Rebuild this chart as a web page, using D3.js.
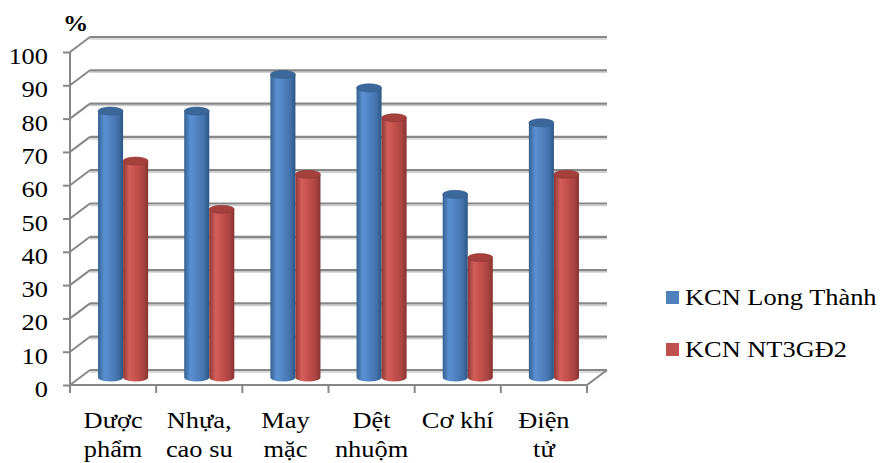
<!DOCTYPE html>
<html>
<head>
<meta charset="utf-8">
<script src="https://cdn.jsdelivr.net/npm/d3@7"></script>
</head>
<body style="margin:0;padding:0;background:#fff">
<svg id="chart" width="882" height="463" style="display:block"></svg>
<script>
// Category labels (two lines each) and the two series, in percent
const categories = [["Dược", "phẩm"], ["Nhựa,", "cao su"], ["May", "mặc"], ["Dệt", "nhuộm"], ["Cơ khí", ""], ["Điện", "tử"]];
const seriesNames = ["KCN Long Thành", "KCN NT3GĐ2"];
const longThanh = [80, 80, 91, 87, 55, 76.5];
const nt3gd2 = [65, 50.5, 61, 78, 36, 61];
const yTicks = [0, 10, 20, 30, 40, 50, 60, 70, 80, 90, 100];
const seriesColors = ["#4F81BD", "#C0504D"];

const FONT = "Liberation Serif";
const STRETCH = 1.1; // text is set slightly wide
const svg = d3.select("#chart");

// Front plane of the 3D box and the depth offset to the back wall
const front = { left: 70, right: 587, top: 52, bottom: 385 };
const depth = { dx: 20, dy: -15 };

const keys = categories.map((c, i) => i);
const x = d3.scaleBand().domain(keys).range([front.left, front.right]).paddingInner(0).paddingOuter(0);
const xInner = d3.scaleBand().domain([0, 1]).range([0, x.bandwidth()]).paddingOuter(0.72).paddingInner(0);
const y = d3.scaleLinear().domain([0, 100]).range([front.bottom, front.top]);

const gridColor = "#878787";
const shadowColor = "#cfcfcf";

// Places a text element at (px, py) with the horizontal stretch applied
function placeText(sel, px, py, size) {
  return sel.attr("x", 0).attr("y", 0)
    .attr("transform", `translate(${px},${py}) scale(${STRETCH},1)`)
    .style("font-family", FONT).style("font-size", size + "px")
    .attr("fill", "#000");
}

// Gradients for the cylinder bodies
const defs = svg.append("defs");
const gradStops = [
  [["0%", "#34628f"], ["25%", "#5a90d2"], ["45%", "#5386c6"], ["80%", "#4272ab"], ["100%", "#2c5584"]],
  [["0%", "#8f3836"], ["25%", "#d45e5a"], ["45%", "#c9534f"], ["80%", "#ab4542"], ["100%", "#873331"]]
];
gradStops.forEach((stops, i) => {
  const g = defs.append("linearGradient").attr("id", "cyl" + i).attr("x1", "0%").attr("x2", "100%");
  stops.forEach(s => g.append("stop").attr("offset", s[0]).attr("stop-color", s[1]));
});

const wall = svg.append("g");

// Back-wall gridlines with a soft shadow
yTicks.forEach(t => {
  const yy = y(t) + depth.dy;
  wall.append("line")
    .attr("x1", front.left + depth.dx).attr("x2", front.right + depth.dx)
    .attr("y1", yy + 2).attr("y2", yy + 2)
    .attr("stroke", shadowColor).attr("stroke-width", 1.5);
  wall.append("line")
    .attr("x1", front.left + depth.dx).attr("x2", front.right + depth.dx)
    .attr("y1", yy).attr("y2", yy)
    .attr("stroke", gridColor).attr("stroke-width", 2.2);
  // side-wall diagonal from the front axis to the back wall
  wall.append("line")
    .attr("x1", front.left).attr("y1", y(t))
    .attr("x2", front.left + depth.dx).attr("y2", yy)
    .attr("stroke", gridColor).attr("stroke-width", 2);
});

// Floor edges
wall.append("line")
  .attr("x1", front.left).attr("x2", front.right)
  .attr("y1", front.bottom).attr("y2", front.bottom)
  .attr("stroke", gridColor).attr("stroke-width", 2);
wall.append("line")
  .attr("x1", front.right).attr("y1", front.bottom)
  .attr("x2", front.right + depth.dx).attr("y2", front.bottom + depth.dy)
  .attr("stroke", gridColor).attr("stroke-width", 2);

// Front vertical axis with ticks and labels
const yAxis = d3.axisLeft(y).tickValues(yTicks).tickSize(7).tickPadding(15);
const gy = svg.append("g").attr("transform", `translate(${front.left},0)`).call(yAxis);
gy.attr("font-family", null).attr("font-size", null);
gy.select(".domain").attr("stroke", gridColor).attr("stroke-width", 2).attr("d", `M0,${front.top}V${front.bottom}`);
gy.selectAll(".tick line").attr("stroke", gridColor).attr("stroke-width", 2);
gy.selectAll(".tick text").each(function () {
  placeText(d3.select(this), -22, 0, 24).attr("dy", "0.48em").attr("text-anchor", "end");
});

// Category axis with ticks between categories
const bounds = keys.map(k => x(k)).concat([front.right]);
bounds.forEach(b => {
  svg.append("line")
    .attr("x1", b).attr("x2", b)
    .attr("y1", front.bottom).attr("y2", front.bottom + 8)
    .attr("stroke", gridColor).attr("stroke-width", 2);
});
const catG = svg.append("g");
categories.forEach((lines, i) => {
  const cx = x(i) + x.bandwidth() / 2;
  lines.forEach((ln, j) => {
    if (ln) placeText(catG.append("text"), cx, 428 + j * 29, 24).attr("text-anchor", "middle").text(ln);
  });
});

// Unit label
placeText(svg.append("text"), 63, 31, 23).style("font-weight", "bold").text("%");

// Cylinders, placed halfway into the depth of the box
const seriesData = [longThanh, nt3gd2];
const ry = 4;
const topColors = ["#3c679b", "#a6403d"];
const barG = svg.append("g");
keys.forEach(i => {
  seriesData.forEach((vals, s) => {
    const v = vals[i];
    const w = xInner.bandwidth();
    const x0 = x(i) + xInner(s) + depth.dx / 2;
    const yBase = y(0) + depth.dy / 2;
    const yTop = y(v) + depth.dy / 2;
    const rx = w / 2;
    const cx = x0 + rx;
    barG.append("path")
      .attr("d", `M${x0},${yTop}L${x0},${yBase}A${rx},${ry} 0 0 0 ${x0 + w},${yBase}L${x0 + w},${yTop}Z`)
      .attr("fill", `url(#cyl${s})`);
    barG.append("ellipse")
      .attr("cx", cx).attr("cy", yTop).attr("rx", rx).attr("ry", ry)
      .attr("fill", topColors[s])
      .attr("stroke", d3.color(topColors[s]).darker(0.4)).attr("stroke-width", 0.6);
  });
});

// Legend
const legend = svg.append("g");
seriesNames.forEach((name, s) => {
  const ly = 305 + s * 52;
  legend.append("rect").attr("x", 666).attr("y", ly - 14).attr("width", 13).attr("height", 13).attr("fill", seriesColors[s]);
  placeText(legend.append("text"), 685, ly, 24).text(name);
});
</script>
</body>
</html>
